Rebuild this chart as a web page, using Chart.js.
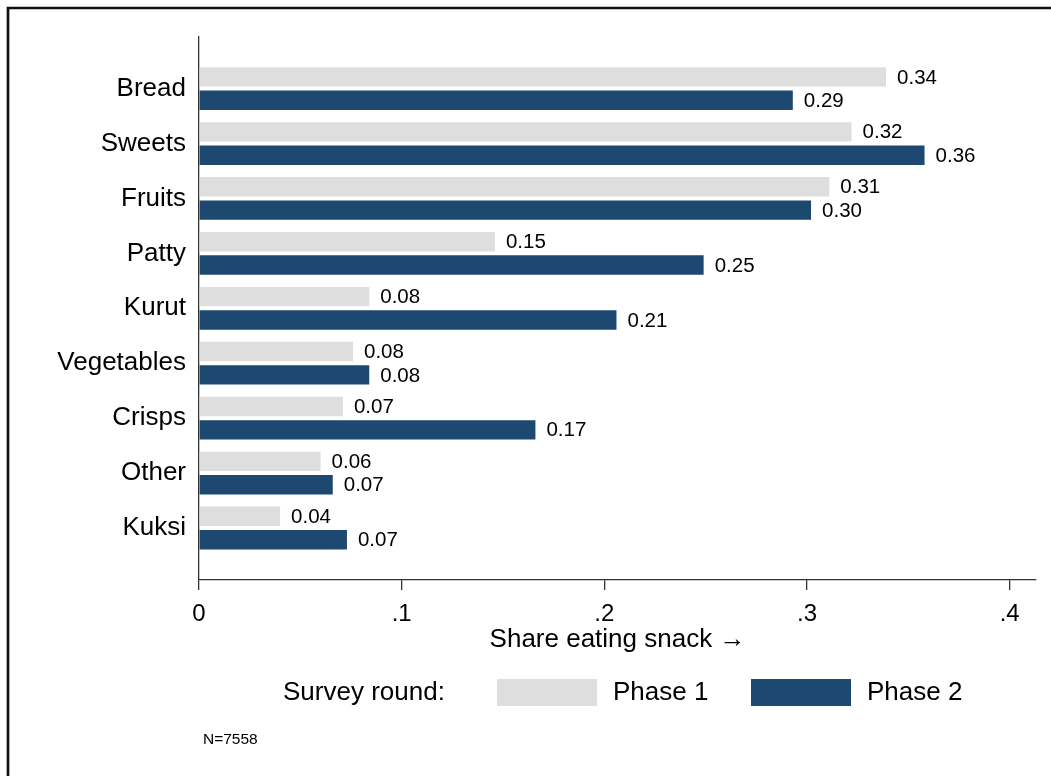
<!DOCTYPE html>
<html>
<head>
<meta charset="utf-8">
<title>Snack consumption by survey round</title>
<script src="https://cdn.jsdelivr.net/npm/chart.js@4.4.1/dist/chart.umd.min.js"></script>
<style>
  html, body { margin: 0; padding: 0; background: #fff; }
  #wrap { width: 1051px; height: 776px; }
</style>
</head>
<body>
<div id="wrap"><canvas id="snacks" width="1051" height="776"></canvas></div>
<script>
// shares of children eating each snack, by survey round
const snacks = ["Bread", "Sweets", "Fruits", "Patty", "Kurut", "Vegetables", "Crisps", "Other", "Kuksi"];
const phase1 = [0.339, 0.322, 0.311, 0.146, 0.084, 0.076, 0.071, 0.060, 0.040];
const phase2 = [0.293, 0.358, 0.302, 0.249, 0.206, 0.084, 0.166, 0.066, 0.073];
const shareTicks = [0, 0.1, 0.2, 0.3, 0.4];
const roundNames = ["Phase 1", "Phase 2"];
const sampleNote = "N=7558";

const FONT = '"Liberation Sans", Arial, sans-serif';
Chart.defaults.font.family = FONT;

// outer frame (only left and top edges fall inside the page)
const frame = {
	id: "frame",
	beforeDraw(chart) {
		const ctx = chart.ctx;
		ctx.save();
		ctx.fillStyle = "#fff";
		ctx.fillRect(0, 0, chart.width, chart.height);
		ctx.strokeStyle = "#111";
		ctx.lineWidth = 2.7;
		ctx.beginPath();
		ctx.moveTo(8, chart.height + 5);
		ctx.lineTo(8, 8);
		ctx.lineTo(chart.width + 5, 8);
		ctx.stroke();
		ctx.restore();
	},
};

// value printed just past the end of each bar
const barValues = {
	id: "barValues",
	afterDatasetsDraw(chart) {
		const ctx = chart.ctx;
		ctx.save();
		ctx.font = "20.5px " + FONT;
		ctx.fillStyle = "#000";
		ctx.textBaseline = "middle";
		chart.data.datasets.forEach((ds, d) => {
			chart.getDatasetMeta(d).data.forEach((bar, i) => {
				ctx.fillText(ds.data[i].x.toFixed(2), bar.x + 11, bar.y + 1);
			});
		});
		ctx.restore();
	},
};

// legend row and sample size note
const roundKey = {
	id: "roundKey",
	afterDraw(chart) {
		const ctx = chart.ctx;
		ctx.save();
		ctx.textBaseline = "middle";
		ctx.font = "26px " + FONT;
		ctx.fillStyle = "#000";
		ctx.fillText("Survey round:", 283, 693);
		chart.data.datasets.forEach((ds, i) => {
			const x = 497 + i * 254;
			ctx.fillStyle = ds.backgroundColor;
			ctx.fillRect(x, 679, 100, 27);
			ctx.fillStyle = "#000";
			ctx.fillText(ds.label, x + 116, 693);
		});
		ctx.font = "15.5px " + FONT;
		ctx.fillText(sampleNote, 203, 739.5);
		ctx.restore();
	},
};

new Chart(document.getElementById("snacks"), {
	type: "bar",
	data: {
		datasets: [
			{
				label: roundNames[0],
				data: phase1.map((v, i) => ({ x: v, y: i })),
				backgroundColor: "#dedede",
			},
			{
				label: roundNames[1],
				data: phase2.map((v, i) => ({ x: v, y: i })),
				backgroundColor: "#1d486f",
			},
		],
	},
	options: {
		indexAxis: "y",
		responsive: false,
		animation: false,
		categoryPercentage: 0.851,
		barPercentage: 0.83,
		layout: { padding: { top: 36.7, right: 15, bottom: 123.1, left: 0 } },
		plugins: {
			legend: { display: false },
			tooltip: { enabled: false },
		},
		scales: {
			y: {
				type: "linear",
				reverse: true,
				offset: false,
				min: -0.945,
				max: 8.945,
				afterBuildTicks: (s) => {
					s.ticks = snacks.map((_, i) => ({ value: i }));
				},
				afterFit: (s) => {
					s.width = 199;
				},
				grid: { display: false, drawTicks: false },
				border: { display: true, color: "#333", width: 1.3 },
				ticks: {
					autoSkip: false,
					padding: 13,
					color: "#000",
					font: { size: 26 },
					callback: (v) => snacks[v],
				},
			},
			x: {
				type: "linear",
				min: 0,
				max: 0.413,
				afterBuildTicks: (s) => {
					s.ticks = shareTicks.map((v) => ({ value: v }));
				},
				grid: {
					drawOnChartArea: false,
					drawTicks: true,
					tickLength: 10,
					color: "#333",
					lineWidth: 1.3,
				},
				border: { color: "#333", width: 1.3 },
				ticks: {
					padding: 12,
					color: "#000",
					font: { size: 24, lineHeight: 1 },
					callback: (v) => (v === 0 ? "0" : v.toFixed(1).replace(/^0/, "")),
				},
				title: {
					display: true,
					text: "Share eating snack \u2192",
					color: "#000",
					font: { size: 26, lineHeight: 1 },
					padding: { top: -11, bottom: 0 },
				},
			},
		},
	},
	plugins: [frame, barValues, roundKey],
});
</script>
</body>
</html>
